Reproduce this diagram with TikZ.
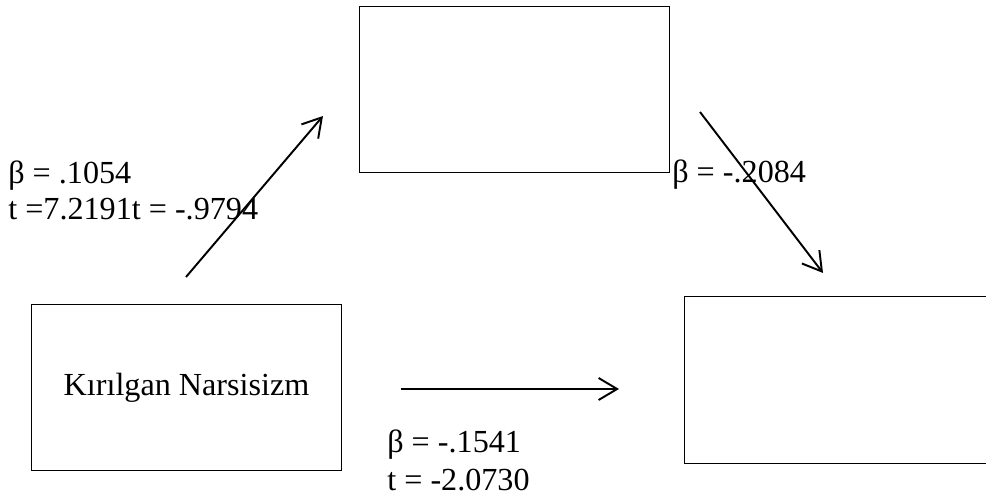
\documentclass[tikz,border=0pt]{standalone}
\usepackage{fontspec}
\setmainfont{Liberation Serif}
\usetikzlibrary{arrows.meta}

\tikzset{
  kutu/.style={draw, line width=0.6pt, inner sep=0pt, anchor=north west,
    minimum width=6.2cm, minimum height=3.32cm, font=\fontsize{18.3}{21}\selectfont},
  ok/.style={line width=1.1pt, -{Straight Barb[length=3.7mm, width=4.4mm, line width=1.1pt]}},
  etiket/.style={anchor=base west, inner sep=0pt, font=\fontsize{18.3}{21}\selectfont}
}

\begin{document}
\begin{tikzpicture}[x=0.02cm, y=-0.02cm]
    % Sınırlar
    \clip (0,0) rectangle (986,502);

    % Kutular
    \node[kutu] (ust) at (359,6) {};
    \node[kutu] (kn) at (31,304) {Kırılgan Narsisizm};
    \node[kutu, minimum width=7cm, minimum height=3.34cm] (sag) at (684,296) {};

    % Okların uçları
    \coordinate (a1) at (186,277);
    \coordinate (a2) at (323,116);
    \coordinate (b1) at (700,112);
    \coordinate (b2) at (823,273);
    \coordinate (c1) at (401,389);
    \coordinate (c2) at (619,389);

    % Oklar
    \draw[ok] (a1) -- (a2);
    \draw[ok] (b1) -- (b2);
    \draw[ok] (c1) -- (c2);

    % Katsayılar
    \node[etiket] (e1) at (8,184) {β = .1054};
    \node[etiket] (e2) at (8,220) {t =7.2191t = -.9794};
    \node[etiket] (e3) at (672,183) {β = -.2084};
    \node[etiket] (e4) at (387,453) {β = -.1541};
    \node[etiket] (e5) at (387,490) {t = -2.0730};

\end{tikzpicture}
\end{document}
